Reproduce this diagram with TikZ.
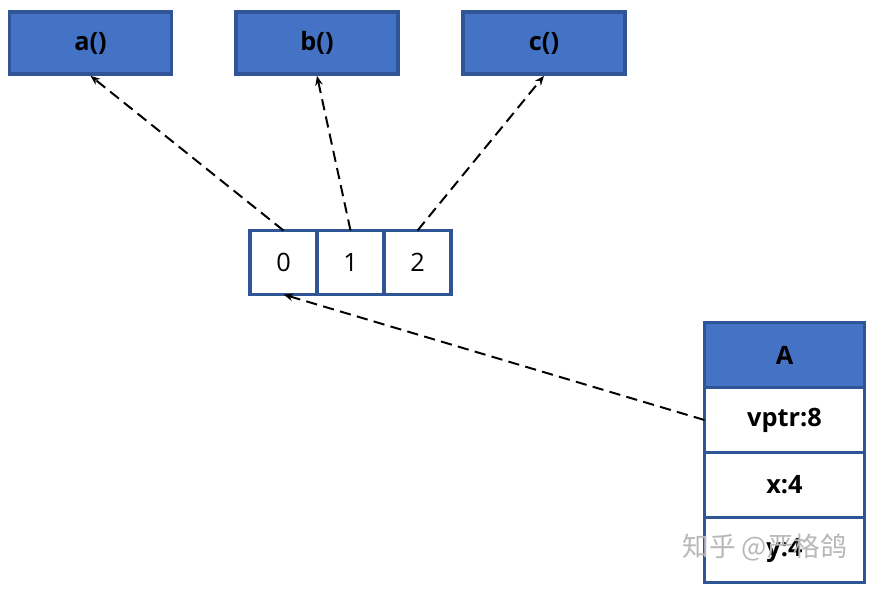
\documentclass[tikz,border=0pt]{standalone}
\usepackage{fontspec}
\setmainfont{Open Sans}
\newfontfamily\cjk{Noto Sans CJK SC}
\usetikzlibrary{arrows.meta,positioning}
\definecolor{boxblue}{HTML}{4472C4}
\definecolor{edgeblue}{HTML}{2F5597}

\begin{document}
\begin{tikzpicture}[
  x=0.025cm,y=-0.025cm,
  link/.style={-{Stealth[length=2.4mm,width=1.9mm]},line width=1.4pt,
    dash pattern=on 8pt off 4.5pt},
  func/.style={draw=edgeblue,line width=2.6pt,fill=boxblue,
    minimum width=4.05cm,minimum height=1.55cm,font=\bfseries\fontsize{18}{21}\selectfont},
  cell/.style={draw=edgeblue,line width=2.6pt,fill=white,outer sep=0pt,
    minimum width=1.675cm,minimum height=1.6cm,font=\fontsize{18}{21}\selectfont},
  field/.style={draw=edgeblue,line width=2.6pt,fill=white,outer sep=0pt,
    minimum width=4cm,minimum height=1.625cm,font=\bfseries\fontsize{18}{21}\selectfont},
  header/.style={field,fill=boxblue}
]
\useasboundingbox (0,0) rectangle (876,595);
% functions
\node[func] (fa) at (90.5,43) {a()};
\node[func] (fb) at (317,43) {b()};
\node[func] (fc) at (544,43) {c()};
% vtable
\node[cell] (slot0) at (283.5,262.5) {0};
\node[cell,right=0pt of slot0] (slot1) {1};
\node[cell,right=0pt of slot1] (slot2) {2};
% object layout
\node[header] (objA) at (784.5,355) {A};
\node[field,below=0pt of objA] (vptr) {vptr:8};
\node[field,below=0pt of vptr] (fx) {x:4};
\node[field,below=0pt of fx] (fy) {y:4};
\draw[link] (slot0.north) -- (fa.south);
\draw[link] (slot1.north) -- (fb.south);
\draw[link] (slot2.north) -- (fc.south);
\draw[link] (vptr.west) -- (slot0.south);
% watermark
\node[text=black!28,font=\cjk\fontsize{19}{22}\selectfont] (mark) at (765,548) {知乎 @严格鸽};
\end{tikzpicture}
\end{document}
